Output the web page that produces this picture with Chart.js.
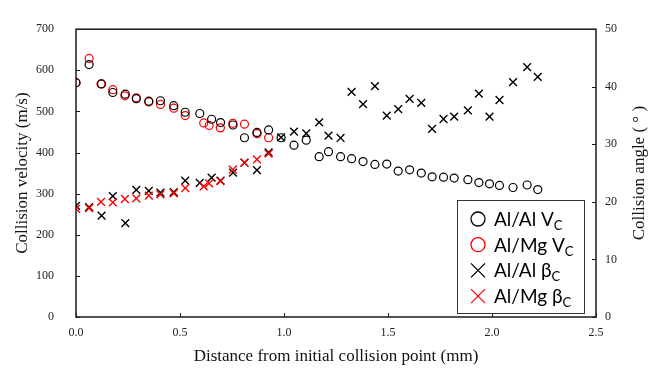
<!DOCTYPE html>
<html>
<head>
<meta charset="utf-8">
<script src="https://cdn.jsdelivr.net/npm/chart.js@4.4.1/dist/chart.umd.min.js"></script>
<style>
  body { margin: 0; background: #fff; }
  #wrap { width: 665px; height: 370px; position: relative; }
</style>
</head>
<body>
<div id="wrap"><canvas id="chart"></canvas></div>
<script>
// Al/Al data (distance in mm, velocity in m/s, angle in degrees)
const alAlDist = [0, 0.063, 0.123, 0.177, 0.237, 0.29, 0.35, 0.406, 0.47, 0.525, 0.595, 0.652, 0.695, 0.755, 0.81, 0.87, 0.926, 0.986,
  1.048, 1.107, 1.169, 1.214, 1.272, 1.325, 1.38, 1.437, 1.494, 1.549, 1.604, 1.66, 1.712, 1.767, 1.818, 1.884, 1.937, 1.988, 2.036, 2.101, 2.169, 2.22];
const alAlVel = [570, 614, 567, 546, 542, 531, 525, 526, 514, 498, 495, 481, 473, 467, 436, 449, 455, 436,
  418, 430, 390, 402, 390, 385, 378, 371, 372, 355, 358, 350, 341, 340, 338, 334, 327, 324, 320, 315, 321, 310];
const alAlAngle = [19.3, 19.1, 17.6, 21.0, 16.3, 22.1, 21.9, 21.6, 21.7, 23.7, 23.3, 24.2, 23.7, 25.1, 26.8, 25.5, 28.6, 31.2,
  32.2, 31.9, 33.8, 31.5, 31.1, 39.1, 37.0, 40.1, 35.0, 36.1, 37.9, 37.2, 32.7, 34.4, 34.8, 35.9, 38.8, 34.8, 37.7, 40.8, 43.4, 41.7];

// Al/Mg data
const alMgDist = [0, 0.063, 0.12, 0.177, 0.235, 0.29, 0.35, 0.406, 0.47, 0.525, 0.614, 0.64, 0.694, 0.754, 0.81, 0.87, 0.926];
const alMgVel = [570, 629, 567, 553, 538, 533, 523, 517, 508, 490, 472, 466, 460, 471, 469, 446, 436];
const alMgAngle = [18.8, 18.9, 20.0, 19.9, 20.5, 20.6, 21.1, 21.3, 21.5, 22.4, 22.7, 23.2, 23.6, 25.6, 26.8, 27.4, 28.4];

const xTicks = [0, 0.5, 1.0, 1.5, 2.0, 2.5];

function toPoints(xs, ys) {
  return xs.map((x, i) => ({ x: x, y: ys[i] }));
}

const serif = "'Liberation Serif', 'Times New Roman', serif";
const sans = "Lato, 'Open Sans', 'DejaVu Sans', sans-serif";

// frame + inward tick marks
const framePlugin = {
  id: 'frame',
  beforeDatasetsDraw(chart) {
    const ctx = chart.ctx;
    const a = chart.chartArea;
    ctx.save();
    ctx.strokeStyle = '#1a1a1a';
    ctx.lineWidth = 1.5;
    ctx.strokeRect(a.left, a.top, a.right - a.left, a.bottom - a.top);
    ctx.lineWidth = 1;
    ctx.beginPath();
    chart.scales.x.ticks.forEach(t => {
      const px = Math.round(chart.scales.x.getPixelForValue(t.value)) + 0.5;
      ctx.moveTo(px, a.bottom);
      ctx.lineTo(px, a.bottom - 4);
    });
    chart.scales.y.ticks.forEach(t => {
      const py = Math.round(chart.scales.y.getPixelForValue(t.value)) + 0.5;
      ctx.moveTo(a.left, py);
      ctx.lineTo(a.left + 4, py);
    });
    chart.scales.y1.ticks.forEach(t => {
      const py = Math.round(chart.scales.y1.getPixelForValue(t.value)) + 0.5;
      ctx.moveTo(a.right, py);
      ctx.lineTo(a.right - 4, py);
    });
    ctx.stroke();

    // right axis title, reading bottom to top like the left one
    const a1 = chart.scales.y1;
    ctx.translate(640, (a1.top + a1.bottom) / 2);
    ctx.rotate(-Math.PI / 2);
    ctx.fillStyle = '#111';
    ctx.font = '17px ' + serif;
    ctx.textAlign = 'center';
    ctx.textBaseline = 'middle';
    ctx.fillText('Collision angle ( ° )', 0, 0);
    ctx.restore();
  }
};

// legend box with subscripts
const legendItems = [
  { label: 'Al/Al V', sub: 'C', style: 'circle', color: '#000' },
  { label: 'Al/Mg V', sub: 'C', style: 'circle', color: '#ff0000' },
  { label: 'Al/Al β', sub: 'C', style: 'cross', color: '#000' },
  { label: 'Al/Mg β', sub: 'C', style: 'cross', color: '#ff0000' }
];

const legendPlugin = {
  id: 'subLegend',
  afterDraw(chart) {
    const ctx = chart.ctx;
    const bx = 457, by = 200, bw = 127, bh = 113;
    ctx.save();
    ctx.fillStyle = '#fff';
    ctx.fillRect(bx, by, bw, bh);
    ctx.strokeStyle = '#333';
    ctx.lineWidth = 1;
    ctx.strokeRect(bx + 0.5, by + 0.5, bw, bh);
    legendItems.forEach((item, i) => {
      const cy = 219 + i * 25.7;
      const mx = 478;
      ctx.strokeStyle = item.color;
      ctx.lineWidth = 1.3;
      ctx.beginPath();
      if (item.style === 'circle') {
        ctx.arc(mx, cy, 7, 0, Math.PI * 2);
      } else {
        ctx.moveTo(mx - 7, cy - 7); ctx.lineTo(mx + 7, cy + 7);
        ctx.moveTo(mx + 7, cy - 7); ctx.lineTo(mx - 7, cy + 7);
      }
      ctx.stroke();
      ctx.fillStyle = '#000';
      ctx.textBaseline = 'alphabetic';
      ctx.textAlign = 'left';
      ctx.font = '19px ' + sans;
      ctx.fillText(item.label, 494, cy + 7);
      const w = ctx.measureText(item.label).width;
      ctx.font = '13px ' + sans;
      ctx.fillText(item.sub, 494 + w, cy + 11);
    });
    ctx.restore();
  }
};

const ctx = document.getElementById('chart').getContext('2d');
new Chart(ctx, {
  type: 'scatter',
  data: {
    datasets: [
      {
        label: 'Al/Mg Vc',
        data: toPoints(alMgDist, alMgVel),
        yAxisID: 'y',
        pointStyle: 'circle',
        pointRadius: 4,
        borderColor: '#ff0000',
        backgroundColor: 'rgba(0,0,0,0)',
        borderWidth: 1.2,
        order: 4
      },
      {
        label: 'Al/Al Vc',
        data: toPoints(alAlDist, alAlVel),
        yAxisID: 'y',
        pointStyle: 'circle',
        pointRadius: 4,
        borderColor: '#000',
        backgroundColor: 'rgba(0,0,0,0)',
        borderWidth: 1.2,
        order: 3
      },
      {
        label: 'Al/Al βc',
        data: toPoints(alAlDist, alAlAngle),
        yAxisID: 'y1',
        pointStyle: 'crossRot',
        pointRadius: 5.5,
        borderColor: '#000',
        borderWidth: 1.4,
        order: 2
      },
      {
        label: 'Al/Mg βc',
        data: toPoints(alMgDist, alMgAngle),
        yAxisID: 'y1',
        pointStyle: 'crossRot',
        pointRadius: 5.5,
        borderColor: '#ff0000',
        borderWidth: 1.4,
        order: 1
      }
    ]
  },
  options: {
    responsive: true,
    maintainAspectRatio: false,
    animation: false,
    layout: { padding: { top: 15, left: 0, right: 0, bottom: 0 } },
    plugins: {
      legend: { display: false },
      tooltip: { enabled: false }
    },
    scales: {
      x: {
        type: 'linear',
        min: 0,
        max: 2.5,
        afterBuildTicks: scale => { scale.ticks = xTicks.map(v => ({ value: v })); },
        afterFit: scale => { scale.height = 53; },
        grid: { display: false, drawTicks: false },
        border: { display: false },
        ticks: {
          padding: 9,
          color: '#222',
          font: { family: serif, size: 12 },
          callback: v => Number(v).toFixed(1)
        },
        title: {
          display: true,
          text: 'Distance from initial collision point (mm)',
          color: '#111',
          font: { family: serif, size: 17 },
          padding: { top: 0, bottom: 3 }
        }
      },
      y: {
        position: 'left',
        min: 0,
        max: 700,
        afterFit: scale => { scale.width = 76; },
        grid: { display: false, drawTicks: false },
        border: { display: false },
        ticks: {
          stepSize: 100,
          padding: 22,
          color: '#222',
          font: { family: serif, size: 12 }
        },
        title: {
          display: true,
          text: 'Collision velocity (m/s)',
          color: '#111',
          font: { family: serif, size: 17 },
          padding: { top: 12, bottom: 0 }
        }
      },
      y1: {
        position: 'right',
        min: 0,
        max: 50,
        afterFit: scale => { scale.width = 69; },
        grid: { display: false, drawTicks: false },
        border: { display: false },
        ticks: {
          stepSize: 10,
          padding: 9,
          color: '#222',
          font: { family: serif, size: 12 }
        }
      }
    }
  },
  plugins: [framePlugin, legendPlugin]
});
</script>
</body>
</html>
